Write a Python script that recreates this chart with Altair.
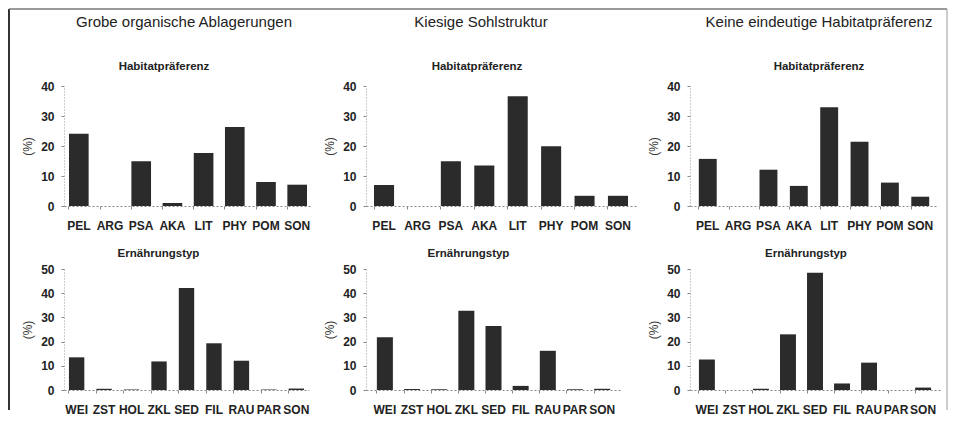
import altair as alt
import pandas as pd

FONT = "Liberation Sans"
TXT = "#222222"

# ---------------- data ----------------
col_titles = ["Grobe organische Ablagerungen", "Kiesige Sohlstruktur",
              "Keine eindeutige Habitatpräferenz"]
hab_title = "Habitatpräferenz"
ern_title = "Ernährungstyp"
y_label = "(%)"

hab_cats = ["PEL", "ARG", "PSA", "AKA", "LIT", "PHY", "POM", "SON"]
ern_cats = ["WEI", "ZST", "HOL", "ZKL", "SED", "FIL", "RAU", "PAR", "SON"]

hab_ticks = [0, 10, 20, 30, 40]
ern_ticks = [0, 10, 20, 30, 40, 50]

hab_grob = [24.1, 0.0, 14.9, 1.0, 17.7, 26.3, 8.0, 7.1]
hab_kies = [7.0, 0.0, 14.9, 13.5, 36.6, 19.9, 3.4, 3.4]
hab_keine = [15.7, 0.0, 12.1, 6.7, 32.9, 21.4, 7.8, 3.1]

ern_grob = [13.5, 0.5, 0.2, 11.8, 42.1, 19.3, 12.1, 0.2, 0.6]
ern_kies = [21.8, 0.4, 0.3, 32.7, 26.4, 1.7, 16.2, 0.3, 0.5]
ern_keine = [12.6, 0.0, 0.5, 23.0, 48.4, 2.7, 11.3, 0.0, 1.0]

hab_values = [hab_grob, hab_kies, hab_keine]
ern_values = [ern_grob, ern_kies, ern_keine]

# per-panel layout (width, paddingInner, paddingOuter, title dx)
top_layout = [(248, 0.37, 0.16, -24), (270, 0.40, 0.24, -24), (248, 0.41, 0.29, 5)]
bot_layout = [(245, 0.44, 0.18, -28), (255, 0.41, 0.40, -25), (250, 0.41, 0.33, -9)]
col_widths = [248, 270, 250]
col_dx = [-4, -20, 4]

dummy_df = pd.DataFrame({"k": [0]})


def panel(cats, vals, title, ticks, layout, height, title_offset):
    width, p_in, p_out, tdx = layout
    df = pd.DataFrame({"Kategorie": cats, "Anteil": vals})
    return alt.Chart(df).mark_bar(color="#2b2b2b").encode(
        x=alt.X("Kategorie:N", sort=cats,
                scale=alt.Scale(paddingInner=p_in, paddingOuter=p_out),
                axis=alt.Axis(title=None, labelAngle=0, labelFont=FONT,
                              labelFontSize=12, labelFontWeight="bold",
                              labelColor=TXT, labelPadding=11, tickSize=3,
                              tickColor="#888888", bandPosition=0,
                              domainColor="#888888", domainDash=[2, 2],
                              domainWidth=1)),
        y=alt.Y("Anteil:Q", scale=alt.Scale(domain=[ticks[0], ticks[-1]], nice=False),
                axis=alt.Axis(values=ticks, title=y_label, grid=False,
                              labelFont=FONT, labelFontSize=12,
                              labelFontWeight="bold", labelColor=TXT,
                              labelPadding=7, tickSize=3, tickColor="#888888",
                              domainColor="#999999", domainDash=[1, 2],
                              titleFont=FONT, titleFontSize=12,
                              titleFontWeight="normal", titleColor="#333333",
                              titlePadding=6)),
    ).properties(
        width=width, height=height,
        title=alt.TitleParams(title, font=FONT, fontSize=11.5, fontWeight="bold",
                              color=TXT, anchor="middle", frame="group",
                              dx=tdx, offset=title_offset),
    )


def blank(width, height, title=None):
    c = alt.Chart(dummy_df).mark_point(opacity=0, size=1).encode(
        x=alt.value(0), y=alt.value(0))
    if title is not None:
        return c.properties(width=width, height=height, title=title)
    return c.properties(width=width, height=height)


# frame around the whole figure (drawn from the header row, top at y=21)
fbase = alt.Chart(dummy_df)
f_left = fbase.mark_rule(color="#333333", strokeWidth=2).encode(
    x=alt.value(0), y=alt.value(-13), y2=alt.value(388))
f_top = fbase.mark_rule(color="#777777", strokeWidth=1.5).encode(
    x=alt.value(0), x2=alt.value(938), y=alt.value(-13))
f_right = fbase.mark_rule(color="#999999", strokeWidth=1).encode(
    x=alt.value(938), y=alt.value(-13), y2=alt.value(388))
strip = alt.layer(f_left, f_top, f_right).properties(width=1, height=1)

cells = [strip]
for i in range(3):
    cells.append(blank(col_widths[i], 1, alt.TitleParams(
        col_titles[i], font=FONT, fontSize=15, fontWeight="normal", color=TXT,
        anchor="middle", frame="group", dx=col_dx[i], offset=-8)))
cells.append(blank(1, 120))
for i in range(3):
    cells.append(panel(hab_cats, hab_values[i], hab_title, hab_ticks,
                       top_layout[i], 120, 8))
cells.append(blank(1, 121))
for i in range(3):
    cells.append(panel(ern_cats, ern_values[i], ern_title, ern_ticks,
                       bot_layout[i], 121, 4))

chart = alt.concat(*cells, columns=4,
                   spacing={"row": 63, "column": 54},
                   bounds="flush", padding=0,
                   background="white").configure_view(stroke=None)

chart.save("out.html", embed_options={"renderer": "svg", "actions": False})
